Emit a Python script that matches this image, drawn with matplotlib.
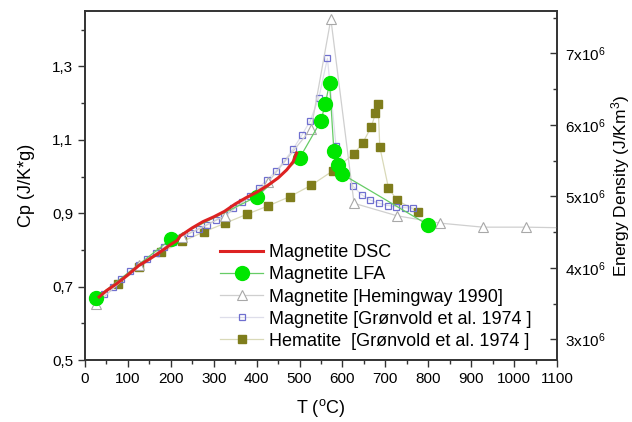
import matplotlib
matplotlib.use('Agg')
import matplotlib.pyplot as plt
from matplotlib.ticker import MultipleLocator, FixedLocator, FuncFormatter

plt.rcParams['font.family'] = ['Liberation Sans', 'DejaVu Sans']
plt.rcParams['mathtext.fontset'] = 'custom'
plt.rcParams['mathtext.rm'] = 'Liberation Sans'
plt.rcParams['mathtext.it'] = 'Liberation Sans:italic'

# Magnetite DSC (continuous measurement)
dsc_T = [33, 50, 75, 100, 125, 150, 175, 200, 215, 222, 250, 275, 300, 325,
         350, 375, 400, 425, 450, 470, 485, 493]
dsc_cp = [0.672, 0.689, 0.709, 0.732, 0.757, 0.775, 0.794, 0.815, 0.826, 0.838,
          0.860, 0.877, 0.890, 0.905, 0.925, 0.942, 0.957, 0.975, 0.996, 1.018,
          1.040, 1.064]

# Magnetite LFA
lfa_T = [25, 200, 400, 500, 550, 560, 570, 580, 590, 600, 800]
lfa_cp = [0.668, 0.829, 0.945, 1.050, 1.152, 1.198, 1.255, 1.070, 1.032, 1.006, 0.868]

# Magnetite [Hemingway 1990]
hem_T = [25, 127, 227, 327, 427, 527, 573, 627, 727, 827, 927, 1027, 1127]
hem_cp = [0.652, 0.759, 0.836, 0.893, 0.985, 1.130, 1.429, 0.927, 0.893, 0.873,
          0.862, 0.862, 0.860]

# Magnetite [Gronvold et al. 1974]
gro_T = [45, 65, 85, 105, 125, 145, 165, 185, 205, 225, 245, 265, 285, 305, 325,
         345, 365, 385, 405, 425, 445, 465, 485, 505, 525, 545, 565, 585, 625,
         645, 665, 685, 705, 725, 745, 765]
gro_cp = [0.680, 0.700, 0.722, 0.743, 0.760, 0.776, 0.792, 0.808, 0.822, 0.834,
          0.846, 0.856, 0.868, 0.882, 0.895, 0.913, 0.930, 0.948, 0.970, 0.991,
          1.015, 1.043, 1.075, 1.112, 1.152, 1.215, 1.322, 1.084, 0.973, 0.950,
          0.936, 0.927, 0.921, 0.918, 0.915, 0.914]

# Hematite [Gronvold et al. 1974]
hmt_T = [77, 127, 177, 227, 277, 327, 377, 427, 477, 527, 577, 627, 647, 667,
         677, 683, 687, 707, 727, 777]
hmt_cp = [0.707, 0.753, 0.793, 0.823, 0.849, 0.873, 0.897, 0.920, 0.945, 0.976,
          1.015, 1.062, 1.091, 1.135, 1.172, 1.198, 1.081, 0.970, 0.935, 0.904]

cp_ticks = [0.5, 0.7, 0.9, 1.1, 1.3]
cp_minor = [0.6, 0.8, 1.0, 1.2, 1.4]

fig = plt.figure(figsize=(6.32, 4.22), dpi=100)
ax = fig.add_axes([85/632, 1-360/422, 472/632, 349/422])

l_hmt, = ax.plot(hmt_T, hmt_cp, '-s', color='#d9d9b8', lw=0.9, ms=5.5,
                 mfc='#7f7d1c', mec='#7f7d1c', zorder=2)
l_gro, = ax.plot(gro_T, gro_cp, '-s', color='#dedeea', lw=0.9, ms=5,
                 mfc='none', mec='#6f6fcf', mew=0.9, zorder=3)
l_hem, = ax.plot(hem_T, hem_cp, '-^', color='#cfcfcf', lw=0.9, ms=6.5,
                 mfc='white', mec='#a8a8a8', mew=0.8, zorder=4)
l_lfa, = ax.plot(lfa_T, lfa_cp, '-o', color='#66cc66', lw=0.9, ms=10,
                 mfc='#00e600', mec='#00e600', zorder=5)
l_dsc, = ax.plot(dsc_T, dsc_cp, '-', color='#dd2222', lw=2.2, zorder=6)

ax.set_xlim(0, 1100)
ax.set_ylim(0.5, 1.451)
ax.xaxis.set_major_locator(MultipleLocator(100))
ax.xaxis.set_minor_locator(MultipleLocator(50))
ax.yaxis.set_major_locator(FixedLocator(cp_ticks))
ax.yaxis.set_minor_locator(FixedLocator(cp_minor))
ax.yaxis.set_major_formatter(FuncFormatter(lambda v, p: ('%.1f' % v).replace('.', ',')))
ax.tick_params(which='both', direction='out', labelsize=11, width=1, color='#333333')
ax.tick_params(which='major', length=5)
ax.tick_params(which='minor', length=3)
ax.tick_params(top=False, right=False)
for s in ax.spines.values():
    s.set_linewidth(1.2)
    s.set_color('#333333')

ax.set_xlabel(r'T ($^{\mathregular{o}}$C)', fontsize=13, labelpad=8)
ax.set_ylabel('Cp (J/K*g)', fontsize=13, labelpad=12)

ax2 = ax.twinx()
ax2.set_ylim(2.71e6, 7.592e6)
ax2.yaxis.set_major_locator(MultipleLocator(1e6))
ax2.yaxis.set_minor_locator(MultipleLocator(0.5e6))
ax2.yaxis.set_major_formatter(FuncFormatter(lambda v, p: r'%dx10$^{\mathregular{6}}$' % round(v / 1e6)))
ax2.tick_params(which='both', direction='in', labelsize=11, width=1, color='#333333', pad=6)
ax2.tick_params(which='major', length=5)
ax2.tick_params(which='minor', length=3)
ax2.set_ylabel(r'Energy Density (J/Km$^{\mathregular{3}}$)', fontsize=12.5, labelpad=2)
for s in ax2.spines.values():
    s.set_linewidth(1.2)
    s.set_color('#333333')

fig.legend([l_dsc, l_lfa, l_hem, l_gro, l_hmt],
           ['Magnetite DSC', 'Magnetite LFA', 'Magnetite [Hemingway 1990]',
            'Magnetite [Gr\u00f8nvold et al. 1974 ]', 'Hematite  [Gr\u00f8nvold et al. 1974 ]'],
           loc='center left', bbox_to_anchor=(220/632, 1-297/422), frameon=False,
           fontsize=13, borderpad=0, borderaxespad=0, handlelength=2.4,
           handletextpad=0.3, labelspacing=0.28)

fig.savefig('out.png', dpi=100)
